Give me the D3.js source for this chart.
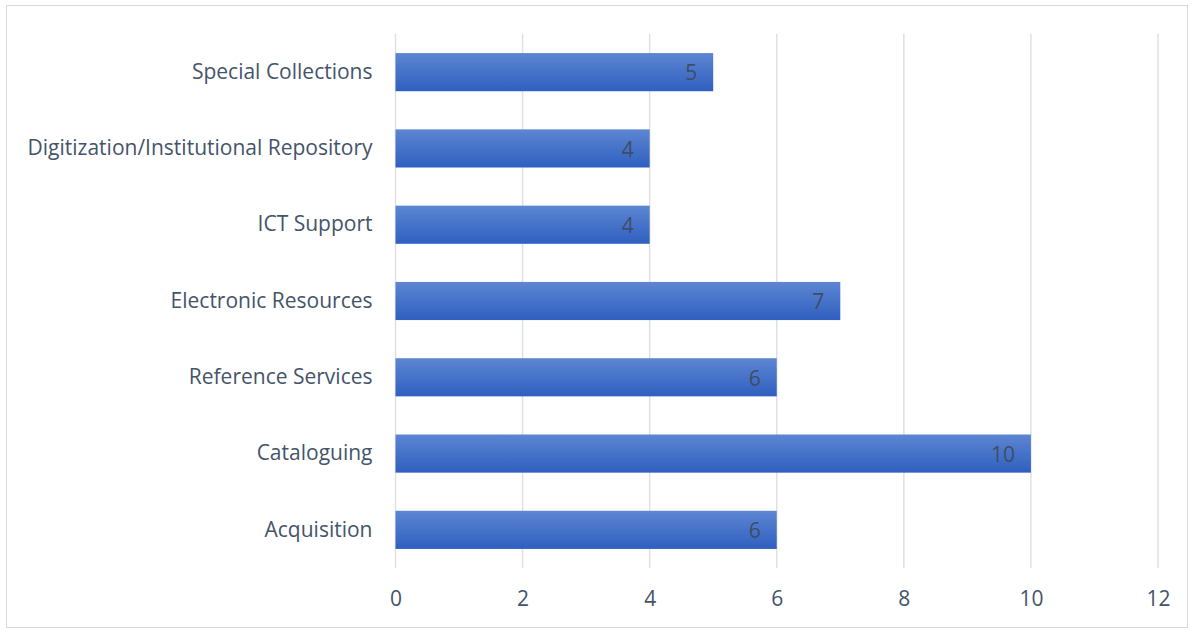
<!DOCTYPE html>
<html>
<head>
<meta charset="utf-8">
<script src="https://cdn.jsdelivr.net/npm/d3@7"></script>
<style>
  body { margin: 0; background: #fff; }
  text { font-family: "Open Sans", "Noto Sans", sans-serif; }
</style>
</head>
<body>
<div id="canvas"></div>
<script>
"use strict"

let svgWidth = 1194
let svgHeight = 630

// categories top to bottom, as in the picture
let categories = ["Special Collections", "Digitization/Institutional Repository", "ICT Support",
    "Electronic Resources", "Reference Services", "Cataloguing", "Acquisition"]
let values = [5, 4, 4, 7, 6, 10, 6]
let xTicks = [0, 2, 4, 6, 8, 10, 12]

let margin = { top: 34, right: 36, bottom: 62, left: 396 }

let svg = d3.select("#canvas")
    .append("svg")
    .attr("width", svgWidth)
    .attr("height", svgHeight)

// outer frame
svg.append("rect")
    .attr("x", 6.5)
    .attr("y", 5.5)
    .attr("width", 1181)
    .attr("height", 622)
    .attr("fill", "white")
    .attr("stroke", "#d9d9d9")

let grad = svg.append("defs").append("linearGradient")
    .attr("id", "barFill")
    .attr("x1", 0).attr("y1", 0).attr("x2", 0).attr("y2", 1)
grad.append("stop").attr("offset", "0%").attr("stop-color", "#5d86d2")
grad.append("stop").attr("offset", "100%").attr("stop-color", "#2f5fc0")

let xScale = d3.scaleLinear()
    .domain([0, 12])
    .range([margin.left - 0.5, svgWidth - margin.right])

let yScale = d3.scaleBand()
    .domain(categories)
    .range([margin.top, svgHeight - margin.bottom])
    .paddingInner(0.5)
    .paddingOuter(0.25)

/* vertical gridlines */
svg.append("g")
    .selectAll("line")
    .data(xTicks)
    .enter()
    .append("line")
    .attr("x1", d => xScale(d))
    .attr("x2", d => xScale(d))
    .attr("y1", margin.top)
    .attr("y2", svgHeight - margin.bottom)
    .attr("stroke", "#dde1e7")
    .attr("stroke-width", 1.5)

/* bars */
svg.selectAll("rect.bar")
    .data(values)
    .enter()
    .append("rect")
    .attr("class", "bar")
    .attr("x", xScale(0))
    .attr("y", (d, i) => yScale(categories[i]))
    .attr("width", d => xScale(d) - xScale(0))
    .attr("height", yScale.bandwidth())
    .attr("fill", "url(#barFill)")

/* value labels, inside end */
svg.selectAll("text.val")
    .data(values)
    .enter()
    .append("text")
    .attr("class", "val")
    .attr("x", d => xScale(d) - 16)
    .attr("y", (d, i) => yScale(categories[i]) + yScale.bandwidth() / 2 + 1)
    .attr("dy", "0.35em")
    .attr("text-anchor", "end")
    .attr("font-size", 21)
    .attr("fill", "#3f4d63")
    .text(d => d)

/* category axis labels */
let yAxis = d3.axisLeft(yScale).tickSize(0).tickPadding(23)
let yG = svg.append("g")
    .attr("transform", `translate(${xScale(0)},0)`)
    .call(yAxis)
yG.select(".domain").remove()
yG.selectAll("text")
    .attr("font-size", 21)
    .attr("fill", "#44546a")
    .style("font-family", "'Open Sans', sans-serif")

/* value axis */
let xAxis = d3.axisBottom(xScale).tickValues(xTicks).tickSize(0).tickPadding(23)
let xG = svg.append("g")
    .attr("transform", `translate(0,${svgHeight - margin.bottom})`)
    .call(xAxis)
xG.select(".domain").remove()
xG.selectAll("text")
    .attr("font-size", 21)
    .attr("fill", "#44546a")
    .style("font-family", "'Open Sans', sans-serif")
</script>
</body>
</html>
